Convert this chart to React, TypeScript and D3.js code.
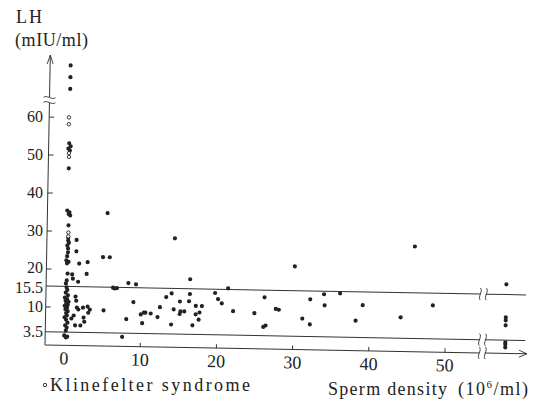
import React from "react";
import * as d3 from "d3";

// Sperm density (10^6/ml) vs LH (mIU/ml), filled dots
const mainPoints: [number, number][] = [
  [0.1, 35.5], [0.4, 35], [0.3, 34.6], [0.5, 34.2], [0.3, 31.6], [0.3, 28.4], [0.3, 27.6],
  [0.4, 27], [0.2, 26.3], [0.3, 25.5], [0.3, 24.5], [0.2, 23.5], [0.1, 22.4], [0.4, 22],
  [0.2, 21.6], [0.3, 18.9], [0.2, 17.1], [0.1, 16.3], [0.2, 15.3], [0.3, 14.6], [0.1, 13.9],
  [0.4, 13.2], [0.0, 12.6], [0.3, 12.2], [0.1, 11.8], [0.5, 11.5], [0.2, 11.1], [0.4, 10.7],
  [0.0, 10.4], [0.3, 10], [0.1, 9.5], [0.4, 9], [0.2, 8.5], [0.3, 7.9], [0.0, 7.4],
  [0.2, 6.8], [0.4, 6], [0.1, 5.3], [0.3, 4.7], [0.2, 3.9], [0.0, 2.6], [0.4, 2.3], [0.2, 2.1],
  [0.2, 53.2], [0.4, 52.4], [0.1, 51.8], [0.3, 51.3], [0.2, 46.6],
  [0.9, 18.7], [1.0, 17.6], [1.7, 16.8], [1.4, 27.8], [1.4, 24.8], [1.8, 21.6], [2.9, 22.0],
  [1.4, 12.9], [1.5, 11.8], [1.6, 10.0], [1.8, 9.5], [2.4, 10.0], [3.0, 10.3], [3.3, 9.5],
  [3.1, 8.7], [1.2, 7.9], [0.9, 7.1], [2.5, 7.4], [2.6, 6.3], [1.4, 5.3], [2.1, 5.3], [2.8, 18.9],
  [5.4, 35], [4.9, 23.4], [5.8, 23.4], [6.3, 15.4], [6.5, 15.2], [6.8, 15.3], [8.3, 16.7],
  [9.3, 16.4], [5.1, 9.4], [9.0, 11.7], [8.1, 7.2], [10.0, 8.5], [10.4, 9], [10.6, 9],
  [11.3, 8.8], [10.2, 6.2], [12.5, 10.5], [13.3, 13.2], [14.0, 14.2], [12.2, 7.9], [14.0, 6],
  [14.3, 10], [7.6, 2.5], [14.3, 28.7], [16.4, 18], [16.4, 14.1], [15.1, 12.1], [16.3, 12.2],
  [15.2, 9.5], [15.7, 9.5], [17.2, 11], [18.0, 11], [17.7, 9.3], [15.1, 8.8], [17.2, 8.8],
  [17.6, 7.4], [16.8, 5.9], [19.7, 14.5], [20.1, 12.9], [20.6, 11.8], [21.4, 15.8], [22.1, 9.8],
  [24.9, 9.4], [26.2, 13.6], [26.1, 5.8], [26.4, 6.2], [27.7, 10.6], [28.1, 10.4], [30.1, 21.9],
  [31.2, 8.2], [32.2, 13.3], [32.2, 6.7], [34.0, 14.7], [34.1, 11.8], [36.1, 15], [39.1, 12],
  [38.2, 7.9], [44.1, 9], [48.3, 12.3], [45.8, 27.7],
];

// Klinefelter syndrome, open circles
const klinefelterPoints: [number, number][] = [
  [0.1, 60], [0.1, 58.2], [0.2, 50.6], [0.2, 49.6], [0.3, 29.7], [0.3, 28.7],
];

// values above the axis break
const highPoints: [number, number][] = [[0.2, 80], [0.2, 90], [0.2, 100]];

// samples beyond the x-axis break
const beyondBreakLH = [18.2, 9.5, 8.7, 7.4, 2.9, 2.4, 1.6];

const yTickLabels = [3.5, 10, 15.5, 20, 30, 40, 50, 60];
const yTickMarks = [10, 20, 30, 40, 50, 60];
const xTicks = [0, 10, 20, 30, 40, 50];
const refLines = [15.5, 3.5];

const W = 536;
const H = 403;
const FONT = "'Liberation Serif', 'DejaVu Serif', serif";
const INK = "#222";

export default function App() {
  const x = d3.scaleLinear().domain([0, 50]).range([64, 445]);
  const y = d3.scaleLinear().domain([0, 60]).range([345, 117]);
  const yHigh = d3.scaleLinear().domain([80, 100]).range([88.5, 65]);

  const ox = 45;
  const oy = y(0);
  const xBreak = x(54.9);
  const xBeyond = x(57.9);
  const xEnd = 527;
  const yTop = 55;
  const yBreak = 100;

  // small nudges so the crowded labels 20 / 15.5 do not collide
  const labelNudge = (t: number) => (t === 20 ? -1.5 : t === 15.5 ? 1.5 : 0);

  const wave = (cx: number, cy: number, vertical: boolean, half = 6) => {
    if (vertical) {
      return `M${cx},${cy - half} C${cx + 3},${cy - half / 2} ${cx - 3},${cy + half / 2} ${cx},${cy + half}`;
    }
    return `M${cx - half},${cy} C${cx - half / 2},${cy - 3} ${cx + half / 2},${cy + 3} ${cx + half},${cy}`;
  };

  const hLine = (yy: number, end: number) => (
    <g>
      <line x1={ox} x2={xBreak - 2.5} y1={yy} y2={yy} stroke="#333" strokeWidth={1} />
      <line x1={xBreak + 2.5} x2={end} y1={yy} y2={yy} stroke="#333" strokeWidth={1} />
      <path d={wave(xBreak - 3, yy, true)} fill="none" stroke="#333" strokeWidth={0.9} />
      <path d={wave(xBreak + 3, yy, true)} fill="none" stroke="#333" strokeWidth={0.9} />
    </g>
  );

  return (
    <svg width={W} height={H} style={{ position: "absolute", left: 0, top: 0, background: "#fff" }}>
      <rect width={W} height={H} fill="#fff" />
      <g transform={`rotate(1.05 ${ox} ${oy})`}>
        {/* y axis */}
        <line x1={ox} x2={ox} y1={oy} y2={yBreak + 3} stroke="#333" strokeWidth={1} />
        <line x1={ox} x2={ox} y1={yBreak - 3} y2={yTop} stroke="#333" strokeWidth={1} />
        <path d={wave(ox, yBreak - 2.5, false)} fill="none" stroke="#333" strokeWidth={0.9} />
        <path d={wave(ox, yBreak + 2.5, false)} fill="none" stroke="#333" strokeWidth={0.9} />
        <path d={`M${ox - 3},${yTop + 9} L${ox},${yTop} L${ox + 3},${yTop + 9}`} fill="none" stroke="#333" strokeWidth={0.9} />
        {yTickMarks.map((t) => (
          <line key={t} x1={ox} x2={ox + 5} y1={y(t)} y2={y(t)} stroke="#333" strokeWidth={1} />
        ))}

        {/* reference lines and x axis */}
        {refLines.map((v) => (
          <g key={v}>{hLine(y(v), 525)}</g>
        ))}
        {hLine(oy, xEnd)}
        <path d={`M${xEnd - 8},${oy - 3.5} L${xEnd},${oy} L${xEnd - 8},${oy + 3.5}`} fill="none" stroke="#333" strokeWidth={0.9} />
        {xTicks.filter((t) => t > 0).map((t) => (
          <line key={t} x1={x(t)} x2={x(t)} y1={oy} y2={oy - 4} stroke="#333" strokeWidth={1} />
        ))}
        {xTicks.map((t) => (
          <text key={t} x={x(t)} y={oy + 19} textAnchor="middle" fontFamily={FONT} fontSize={18} fill={INK}>
            {t}
          </text>
        ))}

        {/* data */}
        {mainPoints.map(([d, v], i) => (
          <circle key={"m" + i} cx={x(d)} cy={y(v)} r={2.1} fill={INK} />
        ))}
        {highPoints.map(([d, v], i) => (
          <circle key={"h" + i} cx={x(d)} cy={yHigh(v)} r={2.1} fill={INK} />
        ))}
        {beyondBreakLH.map((v, i) => (
          <circle key={"b" + i} cx={xBeyond} cy={y(v)} r={2.1} fill={INK} />
        ))}
        {klinefelterPoints.map(([d, v], i) => (
          <circle key={"k" + i} cx={x(d)} cy={y(v)} r={1.7} fill="#fff" stroke={INK} strokeWidth={0.9} />
        ))}
      </g>

      {/* y tick labels (set upright) */}
      {yTickLabels.map((t) => (
        <text key={t} x={43} y={y(t) + labelNudge(t)} dy="0.33em" textAnchor="end" fontFamily={FONT} fontSize={16} fill={INK}>
          {t}
        </text>
      ))}

      <text x={16} y={23} fontFamily={FONT} fontSize={18} fill={INK} textLength={26} lengthAdjust="spacing">LH</text>
      <text x={15} y={46} fontFamily={FONT} fontSize={18} fill={INK} textLength={73} lengthAdjust="spacing">(mIU/ml)</text>

      <circle cx={45} cy={385} r={1.7} fill="#fff" stroke={INK} strokeWidth={0.9} />
      <text x={50} y={391} fontFamily={FONT} fontSize={18} fill={INK} textLength={200} lengthAdjust="spacing">
        Klinefelter syndrome
      </text>

      <text x={328} y={395} fontFamily={FONT} fontSize={18} fill={INK} textLength={119} lengthAdjust="spacing">
        Sperm density
      </text>
      <text x={458} y={395} fontFamily={FONT} fontSize={18} fill={INK} letterSpacing={1.5}>
        (10<tspan fontSize={11} dy={-7}>6</tspan><tspan dy={7}>/ml)</tspan>
      </text>
    </svg>
  );
}
